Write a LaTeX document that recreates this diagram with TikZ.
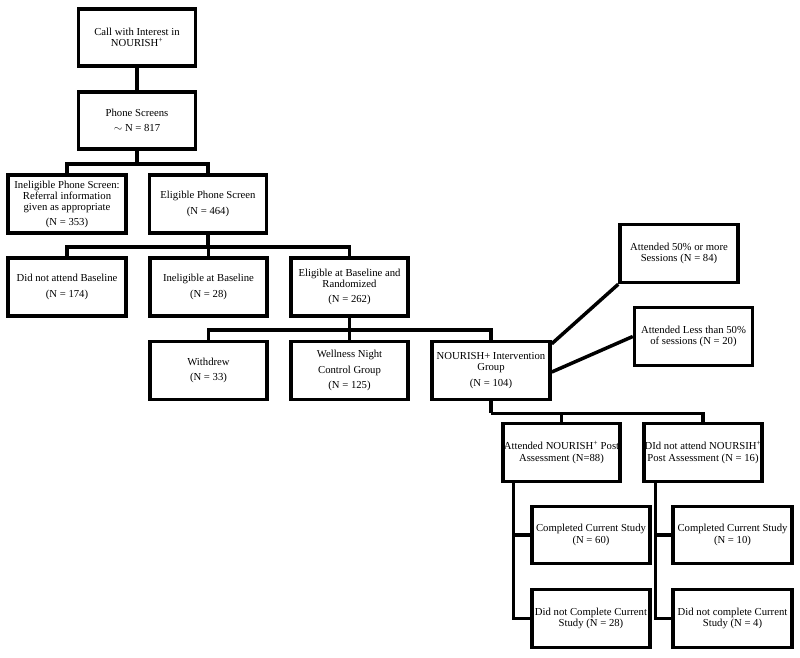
\documentclass[tikz,border=0pt]{standalone}
\usepackage{fontspec}
\setmainfont{Liberation Serif}
\usetikzlibrary{calc}
\tikzset{
  box/.style={draw=black, line width=3.5pt, rectangle, minimum width=117pt, minimum height=57pt,
    align=center, inner sep=0.5pt, font=\fontsize{10.7}{11.3}\selectfont},
  conn/.style={draw=black, line width=3.5pt}
}
\begin{document}
\begin{tikzpicture}[x=1pt,y=-1pt]
\useasboundingbox (0,0) rectangle (800,658);
\node[box] (call) at (137,37.5) {Call with Interest in\\NOURISH\textsuperscript{+}};
\node[box] (ps) at (137,120.5) {Phone Screens\\[4pt]$\sim$ N = 817};
\node[box, minimum width=118pt, minimum height=58pt] (inel) at (67,204) {Ineligible Phone Screen:\\Referral information\\given as appropriate\\[3pt](N = 353)};
\node[box, minimum height=58pt] (elig) at (208,204) {Eligible Phone Screen\\[4pt](N = 464)};
\node[box, minimum width=118pt, minimum height=58pt] (dna) at (67,287) {Did not attend Baseline\\[4pt](N = 174)};
\node[box, minimum height=58pt] (inb) at (208.5,287) {Ineligible at Baseline\\[4pt](N = 28)};
\node[box, minimum height=58pt] (eb) at (349.5,287) {Eligible at Baseline and\\Randomized\\[4pt](N = 262)};
\node[box, minimum height=58pt] (wd) at (208.5,370.5) {Withdrew\\[4pt](N = 33)};
\node[box, minimum height=58pt] (wn) at (349.5,370.5) {Wellness Night\\[4pt]Control Group\\[4pt](N = 125)};
\node[box, minimum width=118pt, minimum height=58pt] (nr) at (491,370.5) {NOURISH+ Intervention\\Group\\[4pt](N = 104)};
\node[box, minimum width=118pt, minimum height=58pt] (a50) at (679,253.5) {Attended 50\% or more\\Sessions (N = 84)};
\node[box, minimum width=118pt, minimum height=58pt] (al) at (693.5,336.5) {Attended Less than 50\%\\of sessions (N = 20)};
\node[box, minimum height=58pt] (ap) at (561.5,452.5) {Attended NOURISH\textsuperscript{+} Post\\Assessment (N=88)};
\node[box, minimum width=118pt, minimum height=58pt] (dp) at (703,452.5) {DId not attend NOURSIH\textsuperscript{+}\\Post Assessment (N = 16)};
\node[box, minimum width=118pt, minimum height=57pt] (c1) at (591,535) {Completed Current Study\\(N = 60)};
\node[box, minimum width=118pt, minimum height=58pt] (d1) at (591,618.5) {Did not Complete Current\\Study (N = 28)};
\node[box, minimum width=119pt, minimum height=57pt] (c2) at (732.5,535) {Completed Current Study\\(N = 10)};
\node[box, minimum width=119pt, minimum height=58pt] (d2) at (732.5,618.5) {Did not complete Current\\Study (N = 4)};

\draw[conn] (call.south) -- (ps.north);
\draw[conn] (ps.south) -- ++(0,13) coordinate (b1);
\draw[conn] (b1) -| (inel.north);
\draw[conn] (b1) -| (elig.north);
\draw[conn] (elig.south) -- ++(0,12) coordinate (b2);
\draw[conn] (b2) -| (dna.north);
\draw[conn] (b2) -| (inb.north);
\draw[conn] (b2) -| (eb.north);
\draw[conn] (eb.south) -- ++(0,12) coordinate (b3);
\draw[conn] (b3) -| (wd.north);
\draw[conn] (b3) -| (wn.north);
\draw[conn] (b3) -| (nr.north);
\draw[conn] ($(nr.north east)+(0,4)$) -- (a50.south west);
\draw[conn] ($(nr.east)+(0,1.5)$) -- (al.west);
\draw[conn] (nr.south) -- ++(0,12) coordinate (b4);
\draw[conn] (b4) -| (ap.north);
\draw[conn] (b4) -| (dp.north);
\coordinate (l1) at ($(ap.south west)+(12,0)$);
\coordinate (l2) at ($(dp.south west)+(13,0)$);
\draw[conn] (l1) |- (c1.west);
\draw[conn] (l1) |- (d1.west);
\draw[conn] (l2) |- (c2.west);
\draw[conn] (l2) |- (d2.west);
\end{tikzpicture}
\end{document}
